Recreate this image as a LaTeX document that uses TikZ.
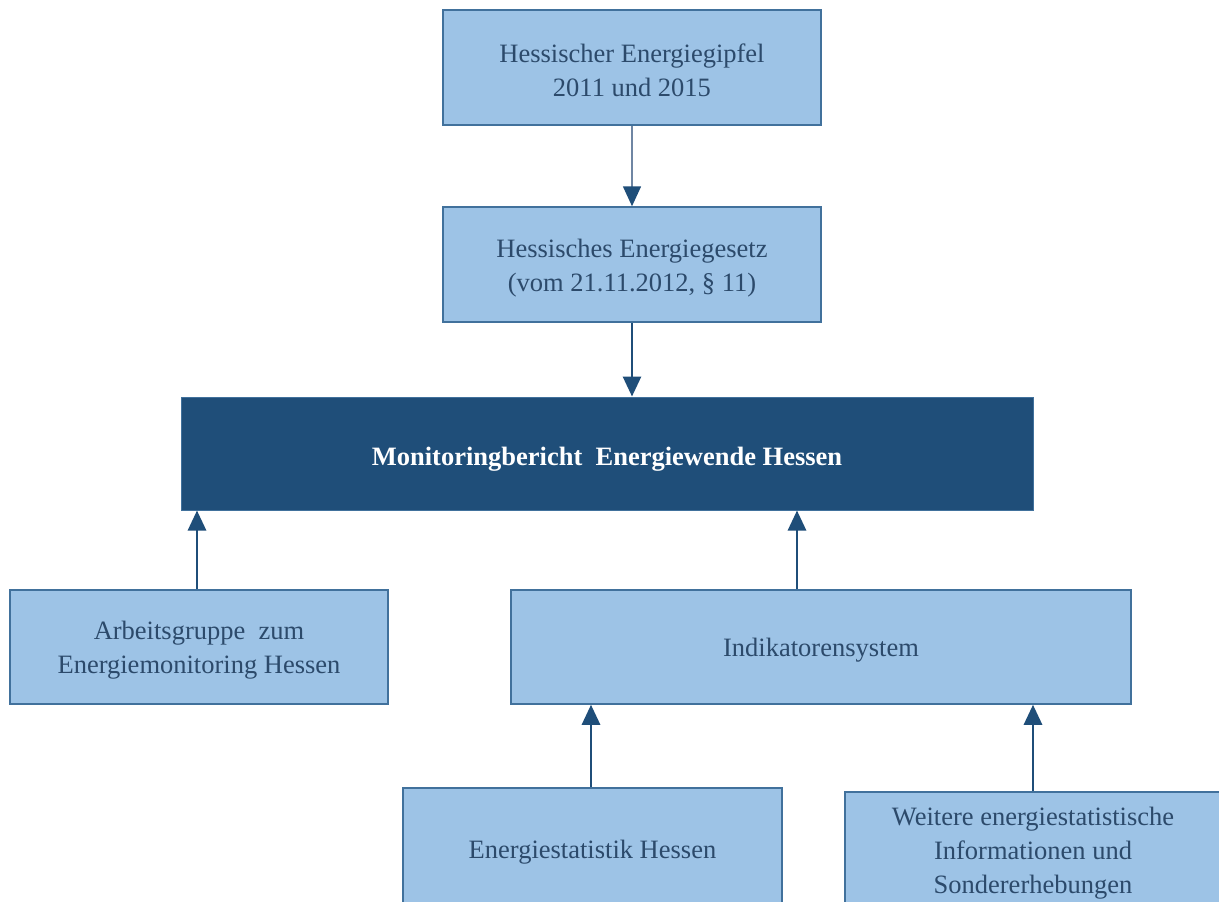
\documentclass[tikz,border=0pt]{standalone}
\usepackage{fontspec}
\setmainfont{Liberation Serif}
\usetikzlibrary{arrows.meta}
\definecolor{boxfill}{HTML}{9DC3E6}
\definecolor{boxline}{HTML}{41719C}
\definecolor{boxtext}{HTML}{2C4A6B}
\definecolor{darkblue}{HTML}{1F4E79}
\definecolor{thinline}{HTML}{6F86A3}
\newcommand{\tstrut}{\rule{0pt}{25pt}}
\tikzset{
  lightbox/.style={draw=boxline, line width=1.5pt, fill=boxfill, text=boxtext,
    align=center, font=\fontsize{26.5}{34}\selectfont, inner sep=0pt},
  onebox/.style={lightbox, text height=25pt},
  mainbox/.style={draw=boxline, line width=1pt, fill=darkblue, text=white,
    align=center, font=\fontsize{26.5}{34}\selectfont\bfseries, inner sep=0pt, text height=30pt},
  conn/.style={draw=darkblue, line width=2.8pt, -{Triangle[width=18pt,length=20pt]}},
  thinconn/.style={draw=thinline, line width=1.6pt, -{Triangle[width=18pt,length=20pt,fill=darkblue,color=darkblue]}}
}
\begin{document}
\begin{tikzpicture}[x=1pt,y=-1pt]
\clip (0,0) rectangle (1219,902);
\fill[white] (0,0) rectangle (1219,902);
\node[lightbox, minimum width=378pt, minimum height=115pt] (gipfel) at (632,67.5)
  {\tstrut Hessischer Energiegipfel\\2011 und 2015};
\node[lightbox, minimum width=378pt, minimum height=115pt] (gesetz) at (632,264.5)
  {\tstrut Hessisches Energiegesetz\\(vom 21.11.2012, \S\ 11)};
\node[mainbox, minimum width=852pt, minimum height=113pt] (main) at (607,453.5)
  {Monitoringbericht\ \ Energiewende Hessen};
\node[lightbox, minimum width=378pt, minimum height=114pt] (arb) at (199,647)
  {\tstrut Arbeitsgruppe\ \ zum\\Energiemonitoring Hessen};
\node[onebox, minimum width=620pt, minimum height=114pt] (ind) at (821,647)
  {Indikatorensystem};
\node[onebox, minimum width=379pt, minimum height=122pt] (ene) at (592.5,849)
  {Energiestatistik Hessen};
\node[lightbox, minimum width=376pt, minimum height=116pt] (wei) at (1033,850)
  {\tstrut Weitere energiestatistische\\Informationen und\\Sondererhebungen};
\draw[thinconn] (gipfel.south) -- (gesetz.north);
\draw[conn] (gesetz.south) -- (gesetz.south |- main.north);
\draw[conn] ([xshift=-2pt]arb.north) -- ([xshift=-2pt]arb.north |- main.south);
\draw[conn] ([xshift=-24pt]ind.north) -- ([xshift=-24pt]ind.north |- main.south);
\draw[conn] ([xshift=-1.5pt]ene.north) -- ([xshift=-1.5pt]ene.north |- ind.south);
\draw[conn] (wei.north) -- (wei.north |- ind.south);
\end{tikzpicture}
\end{document}
